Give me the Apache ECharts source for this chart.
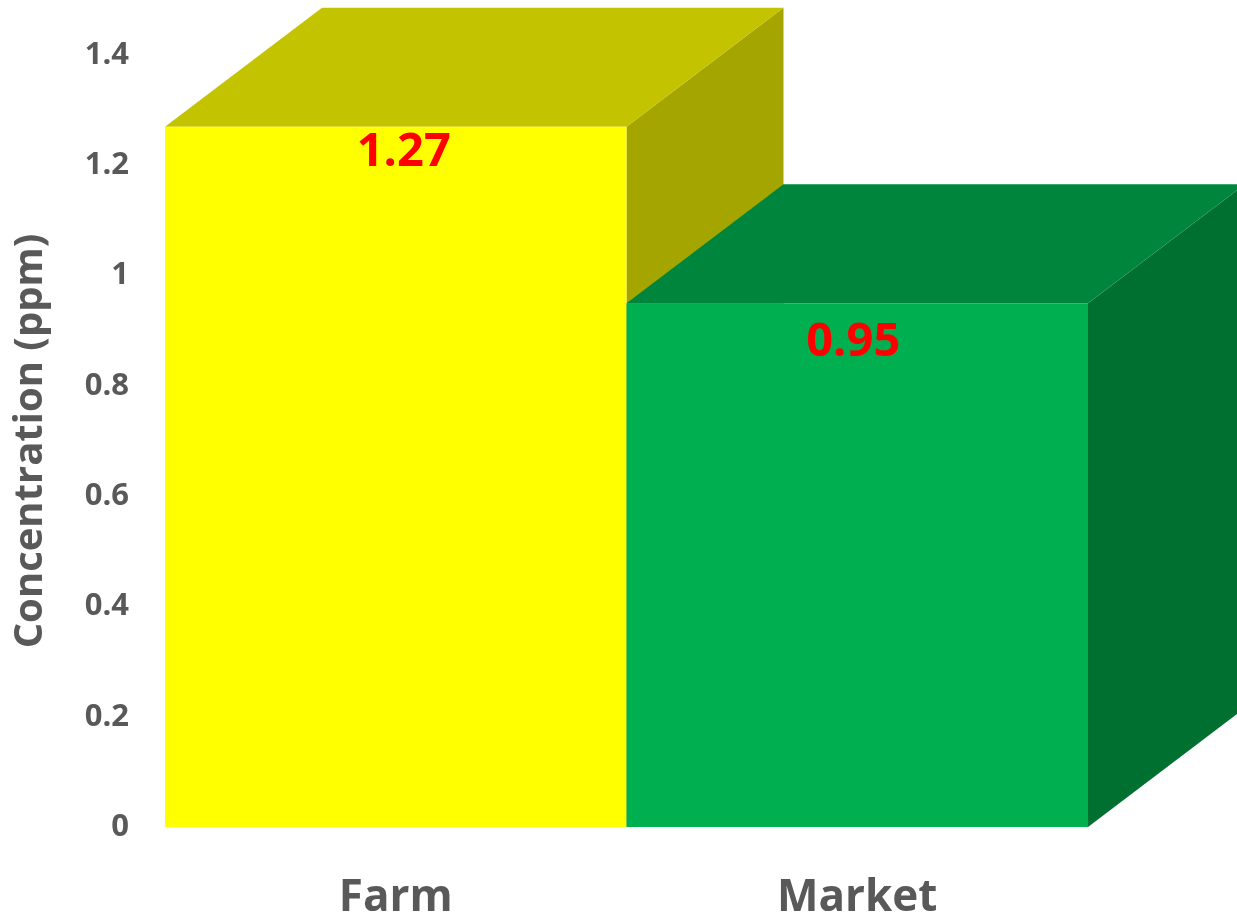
<!DOCTYPE html>
<html>
<head>
<meta charset="utf-8">
<script src="https://cdn.jsdelivr.net/npm/echarts@6/dist/echarts.min.js"></script>
<style>
  html, body { margin: 0; padding: 0; background: #ffffff; }
  #chart { width: 1237px; height: 918px; }
</style>
</head>
<body>
<div id="chart"></div>
<script>
// ---- data ----
const categories = ['Farm', 'Market'];
const concentration = [1.27, 0.95];
const yTicks = { min: 0, max: 1.4, interval: 0.2 };
const yAxisTitle = 'Concentration (ppm)';

// ---- style ----
const FRONT_COLORS = ['#FFFF00', '#00B050'];
const TOP_COLORS = ['#C4C300', '#00863C'];
const SIDE_COLORS = ['#A5A500', '#007031'];
const DEPTH_X = 157;
const DEPTH_Y = 119;
const LABEL_DX = [8, -4];
const LABEL_DY = [26, 39];
const FONT = '"Open Sans", "Liberation Sans", sans-serif';
const GRAY = '#595959';

const chart = echarts.init(document.getElementById('chart'), null, { renderer: 'canvas' });

const option = {
  animation: false,
  backgroundColor: '#ffffff',
  grid: { left: 165, right: 149, top: 55, bottom: 91, containLabel: false, outerBoundsMode: 'none' },
  xAxis: {
    type: 'category',
    data: categories,
    axisLine: { show: false },
    axisTick: { show: false },
    splitLine: { show: false },
    axisLabel: {
      color: GRAY, fontFamily: FONT, fontWeight: 'bold', fontSize: 44,
      lineHeight: 44, margin: 49
    }
  },
  yAxis: {
    type: 'value',
    min: yTicks.min, max: yTicks.max, interval: yTicks.interval,
    name: yAxisTitle,
    nameLocation: 'middle',
    nameGap: 114,
    nameRotate: 90,
    nameTextStyle: { color: GRAY, fontFamily: FONT, fontWeight: 'bold', fontSize: 40 },
    axisLine: { show: false },
    axisTick: { show: false },
    splitLine: { show: false },
    axisLabel: {
      color: GRAY, fontFamily: FONT, fontWeight: 'bold', fontSize: 31, margin: 36,
      formatter: v => String(+v.toFixed(1))
    }
  },
  series: [{
    type: 'custom',
    clip: false,
    data: concentration.map((v, i) => [i, v]),
    renderItem: function (params, api) {
      const i = params.dataIndex;
      const xi = api.value(0), v = api.value(1);
      const top = api.coord([xi, v]);
      const base = api.coord([xi, 0]);
      const bw = api.size([1, 0])[0];
      const l = top[0] - bw / 2, r = top[0] + bw / 2;
      const ty = top[1], by = base[1];
      return {
        type: 'group',
        children: [
          {
            type: 'polygon',
            shape: { points: [[r, ty], [r + DEPTH_X, ty - DEPTH_Y], [r + DEPTH_X, by - DEPTH_Y], [r, by]] },
            style: { fill: SIDE_COLORS[i] }
          },
          {
            type: 'polygon',
            shape: { points: [[l, ty], [r, ty], [r + DEPTH_X, ty - DEPTH_Y], [l + DEPTH_X, ty - DEPTH_Y]] },
            style: { fill: TOP_COLORS[i] }
          },
          {
            type: 'rect',
            shape: { x: l, y: ty, width: r - l, height: by - ty },
            style: { fill: FRONT_COLORS[i] }
          },
          {
            type: 'text',
            style: {
              text: String(v),
              x: top[0] + LABEL_DX[i],
              y: ty + LABEL_DY[i],
              align: 'center',
              verticalAlign: 'middle',
              fill: '#FF0000',
              font: 'bold 47px ' + FONT
            }
          }
        ]
      };
    }
  }]
};

chart.setOption(option);
</script>
</body>
</html>
